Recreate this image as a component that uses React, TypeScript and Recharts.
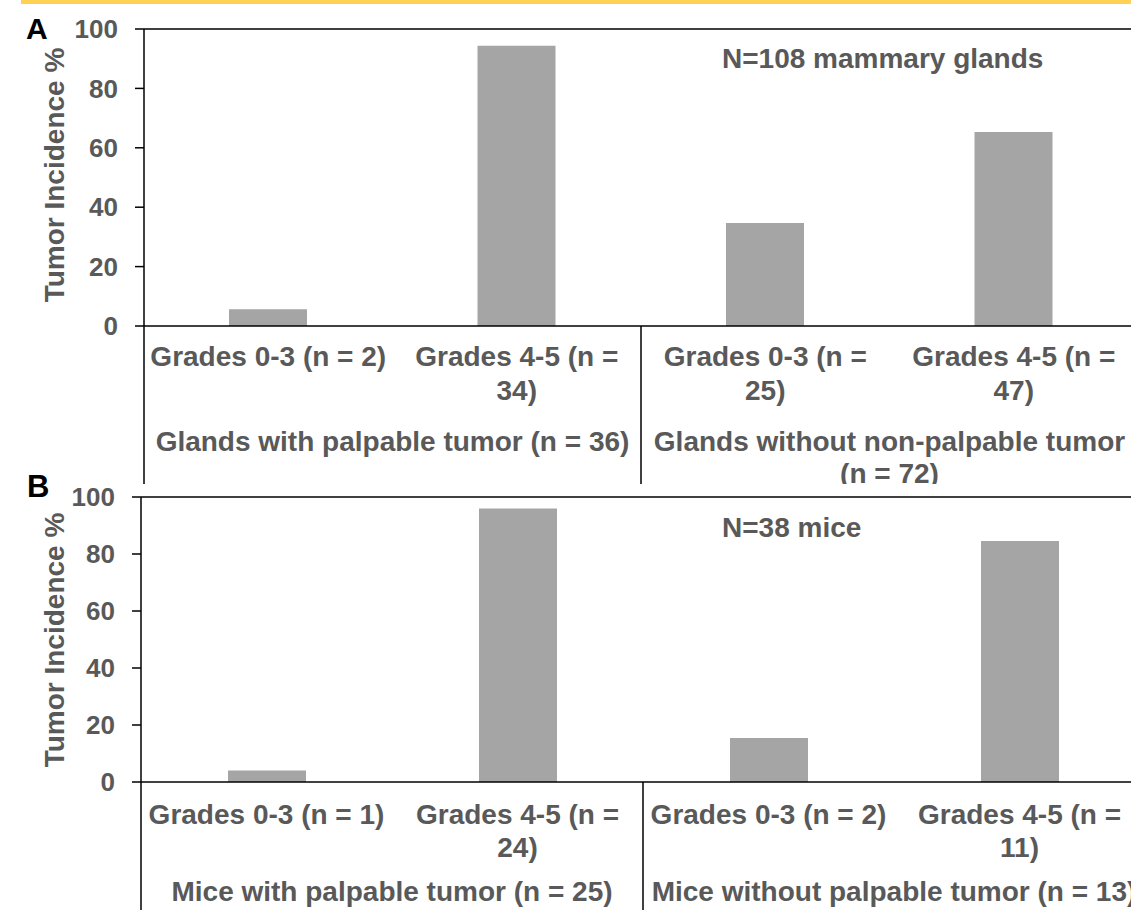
import { Bar, BarChart, ReferenceLine, XAxis, YAxis } from 'recharts';

// Panel A: mammary glands, panel B: mice. Incidence % = tumors / n.
const gradesA = [['Grades 0-3 (n = 2)'], ['Grades 4-5 (n =', '34)'], ['Grades 0-3 (n =', '25)'], ['Grades 4-5 (n =', '47)']];
const incidenceA = [5.6, 94.4, 34.7, 65.3];
const groupsA = [['Glands with palpable tumor (n = 36)'], ['Glands without non-palpable tumor', '(n = 72)']];

const gradesB = [['Grades 0-3 (n = 1)'], ['Grades 4-5 (n =', '24)'], ['Grades 0-3 (n = 2)'], ['Grades 4-5 (n =', '11)']];
const incidenceB = [4.0, 96.0, 15.4, 84.6];
const groupsB = [['Mice with palpable tumor (n = 25)'], ['Mice without palpable tumor (n = 13)']];

const yTicks = [0, 20, 40, 60, 80, 100];

const FONT = '"Liberation Sans", Arial, Helvetica, sans-serif';
const INK = '#595959';
const BAR = '#A5A5A5';
const CHART_W = 1200;

type PanelProps = {
  top: number;
  height: number;
  plotTop: number;
  axisH: number;
  axisX: number;
  plotRight: number;
  grades: string[][];
  values: number[];
  groups: string[][];
  rows: number[];
};

const textStyle = { fill: INK, fontSize: 28, fontWeight: 700, fontFamily: FONT };

function Panel(p: PanelProps) {
  const data = p.grades.map((lines, i) => ({ grade: lines.join(' '), value: p.values[i] }));
  const catW = (p.plotRight - p.axisX) / p.grades.length;

  const renderTick = (t: any) => {
    const { x, y, index } = t;
    const lines = p.grades[index] ?? [];
    const group = index % 2 === 0 ? p.groups[index / 2] : null;
    return (
      <g>
        {lines.map((s, k) => (
          <text key={k} x={x} y={y + p.rows[k]} textAnchor="middle" {...textStyle}>
            {s}
          </text>
        ))}
        {group &&
          group.map((s, k) => (
            <text key={'g' + k} x={x + catW / 2} y={y + p.rows[2 + k]} textAnchor="middle" {...textStyle}>
              {s}
            </text>
          ))}
        {group && (
          <line x1={x - catW / 2} x2={x - catW / 2} y1={y} y2={y + p.axisH} stroke="#000" strokeWidth={1.5} />
        )}
      </g>
    );
  };

  return (
    <div style={{ position: 'absolute', left: 0, top: p.top, width: 1131, height: p.height, overflow: 'hidden' }}>
      <BarChart
        width={CHART_W}
        height={p.height}
        data={data}
        margin={{ top: p.plotTop, right: CHART_W - p.plotRight, bottom: 0, left: 0 }}
      >
        <YAxis
          type="number"
          domain={[0, 100]}
          ticks={yTicks}
          interval={0}
          width={p.axisX}
          axisLine={{ stroke: '#000', strokeWidth: 1.5 }}
          tickLine={{ stroke: '#000', strokeWidth: 1.5 }}
          tickSize={9}
          tickMargin={17}
          tick={{ fill: INK, fontSize: 26, fontWeight: 700, fontFamily: FONT }}
        />
        <XAxis
          dataKey="grade"
          height={p.axisH}
          interval={0}
          tickSize={0}
          tickMargin={0}
          tickLine={false}
          axisLine={{ stroke: '#000', strokeWidth: 1.5 }}
          tick={renderTick}
        />
        <ReferenceLine y={100} stroke="#000" strokeWidth={1.5} />
        <Bar dataKey="value" fill={BAR} barSize={78} isAnimationActive={false} />
      </BarChart>
    </div>
  );
}

export default function App() {
  return (
    <div
      style={{
        position: 'fixed',
        top: 0,
        left: 0,
        width: 1131,
        height: 910,
        overflow: 'hidden',
        background: '#fff',
      }}
    >
      <div style={{ position: 'absolute', left: 21, top: 0, width: 1110, height: 4, background: '#FFD154' }} />
      <Panel
        top={0}
        height={484}
        plotTop={29}
        axisH={158}
        axisX={144}
        plotRight={1138}
        grades={gradesA}
        values={incidenceA}
        groups={groupsA}
        rows={[40, 74, 125, 157]}
      />
      <Panel
        top={470}
        height={440}
        plotTop={27}
        axisH={128}
        axisX={141}
        plotRight={1145}
        grades={gradesB}
        values={incidenceB}
        groups={groupsB}
        rows={[42, 75, 119, 153]}
      />
      <svg
        width={1131}
        height={910}
        style={{ position: 'absolute', left: 0, top: 0, pointerEvents: 'none' }}
      >
        <text x={26} y={39} fontSize={30} fontWeight={700} fontFamily={FONT} fill="#000">
          A
        </text>
        <text x={27} y={497} fontSize={31} fontWeight={700} fontFamily={FONT} fill="#000">
          B
        </text>
        <text x={722} y={68} {...textStyle}>
          N=108 mammary glands
        </text>
        <text x={722} y={537} {...textStyle}>
          N=38 mice
        </text>
        <text
          x={54}
          y={175}
          transform="rotate(-90 54 175)"
          textAnchor="middle"
          dominantBaseline="central"
          {...textStyle}
        >
          Tumor Incidence %
        </text>
        <text
          x={54}
          y={640}
          transform="rotate(-90 54 640)"
          textAnchor="middle"
          dominantBaseline="central"
          {...textStyle}
        >
          Tumor Incidence %
        </text>
      </svg>
    </div>
  );
}
